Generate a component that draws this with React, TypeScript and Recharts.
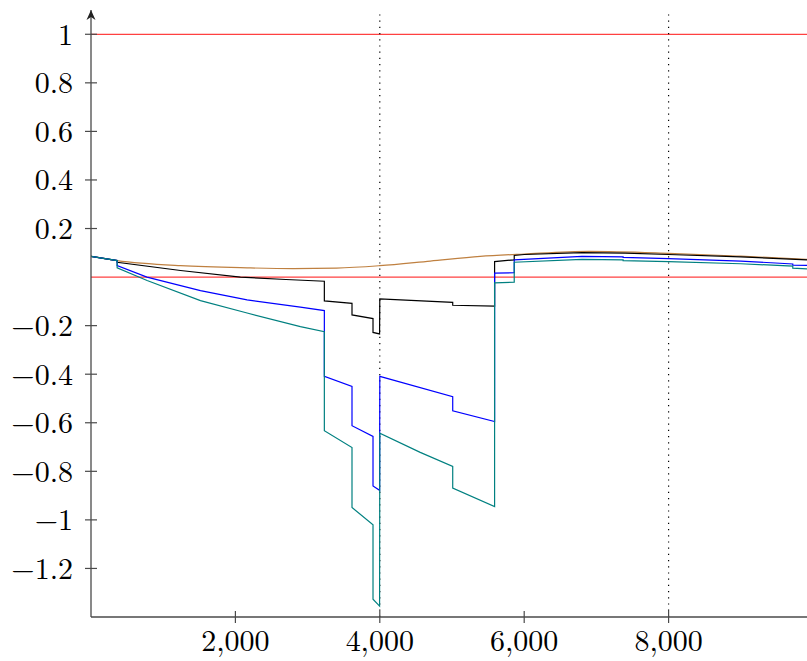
import React from 'react';
import {LineChart, Line, XAxis, YAxis, ReferenceLine} from 'recharts';

const xTicks = [2000, 4000, 6000, 8000];
const yTicks = [-1.2, -1, -0.8, -0.6, -0.4, -0.2, 0.2, 0.4, 0.6, 0.8, 1];

const blackX = [0, 362, 362, 1240, 2070, 2700, 3232, 3232, 3615, 3615, 3906, 3906, 3997, 4000, 5010, 5010, 5590, 5590, 5862, 5862, 6000, 6800, 7400, 8000, 9000, 9917];
const blackY = [0.085, 0.068, 0.061, 0.027, 0, -0.01, -0.017, -0.098, -0.108, -0.156, -0.171, -0.228, -0.234, -0.09, -0.104, -0.116, -0.12, 0.064, 0.071, 0.089, 0.093, 0.101, 0.099, 0.093, 0.083, 0.071];

const blueX = [0, 362, 362, 775, 1516, 2162, 2900, 3232, 3232, 3615, 3615, 3906, 3906, 3997, 4000, 5010, 5010, 5590, 5590, 5862, 5862, 6800, 7370, 7370, 8000, 9000, 9720, 9720, 9917];
const blueY = [0.085, 0.068, 0.047, 0, -0.056, -0.094, -0.124, -0.138, -0.409, -0.45, -0.612, -0.656, -0.86, -0.878, -0.409, -0.493, -0.551, -0.595, 0.016, 0.018, 0.071, 0.085, 0.083, 0.081, 0.076, 0.066, 0.054, 0.049, 0.048];

const tealX = [0, 362, 362, 777, 1516, 2162, 2900, 3232, 3232, 3615, 3615, 3906, 3906, 3997, 4000, 4560, 5010, 5010, 5590, 5590, 5862, 5862, 6800, 7370, 7370, 8000, 9000, 9720, 9720, 9917];
const tealY = [0.085, 0.068, 0.038, -0.014, -0.097, -0.148, -0.204, -0.225, -0.633, -0.702, -0.949, -1.02, -1.327, -1.355, -0.643, -0.722, -0.78, -0.869, -0.945, -0.024, -0.021, 0.061, 0.073, 0.071, 0.068, 0.064, 0.055, 0.045, 0.037, 0.034];

const orangeX = [0, 362, 1240, 2162, 2800, 3400, 4000, 4700, 5390, 6000, 6900, 8000, 9000, 9917];
const orangeY = [0.085, 0.068, 0.047, 0.038, 0.035, 0.037, 0.047, 0.066, 0.085, 0.095, 0.106, 0.098, 0.086, 0.073];

const toRows = (xs: number[], ys: number[]) => xs.map((x, i) => ({x, y: ys[i]}));

const FONT = '"Latin Modern Roman", "Liberation Serif", serif';
const AXIS = '#4a4a4a';
const RED = '#ff4040';

const fmtY = (v: number) => (v < 0 ? '\u2212' + Math.abs(v) : String(v));
const fmtX = (v: number) => v.toLocaleString('en-US');

const YTick = (props: any) => {
    const {x, y, payload} = props;
    return (
        <g>
            <line x1={x + 18} x2={x + 24} y1={y} y2={y} stroke={AXIS} strokeWidth={1.2}/>
            <text x={x} y={y} dy="0.35em" textAnchor="end" fontFamily={FONT} fontSize={30} fill="#000">
                {fmtY(payload.value)}
            </text>
        </g>
    );
};

const XTick = (props: any) => {
    const {x, y, payload} = props;
    return (
        <g>
            <line x1={x} x2={x} y1={y - 14} y2={y - 20} stroke={AXIS} strokeWidth={1.2}/>
            <text x={x} y={y} dy="0.68em" textAnchor="middle" fontFamily={FONT} fontSize={30} fill="#000">
                {fmtX(payload.value)}
            </text>
        </g>
    );
};

export default function App() {
    return (
        <div style={{position: 'absolute', left: 0, top: 0}}>
            <svg width={0} height={0} style={{position: 'absolute'}}>
                <defs>
                    <marker id="arrowHead" markerWidth={12} markerHeight={12} refX={10} refY={5}
                            orient="auto-start-reverse" markerUnits="userSpaceOnUse">
                        <path d="M10,5 L0,0.5 L3,5 L0,9.5 Z" fill="#222"/>
                    </marker>
                </defs>
            </svg>
            <LineChart width={807} height={661} margin={{top: 10, right: 0, bottom: 0, left: 0}}>
                <XAxis type="number" dataKey="x" domain={[0, 9917]} ticks={xTicks} height={44}
                       allowDataOverflow tickSize={6} tickMargin={8}
                       axisLine={{stroke: AXIS, strokeWidth: 1.3}}
                       tickLine={{stroke: AXIS, strokeWidth: 1.2}} tick={<XTick/>}/>
                <YAxis type="number" domain={[-1.4, 1.1]} ticks={yTicks} width={91}
                       allowDataOverflow tickSize={6} tickMargin={12}
                       axisLine={{stroke: AXIS, strokeWidth: 1.3, markerStart: 'url(#arrowHead)'}}
                       tickLine={{stroke: AXIS, strokeWidth: 1.2}} tick={<YTick/>}/>
                <ReferenceLine y={0} stroke={RED} strokeWidth={1.3}/>
                <ReferenceLine y={1} stroke={RED} strokeWidth={1.3}/>
                <ReferenceLine x={4000} stroke="#000" strokeWidth={1.2} strokeDasharray="1.2 5"/>
                <ReferenceLine x={8000} stroke="#000" strokeWidth={1.2} strokeDasharray="1.2 5"/>
                <Line data={toRows(orangeX, orangeY)} dataKey="y" type="monotone" stroke="#bf8040"
                      strokeWidth={1.2} dot={false} isAnimationActive={false}/>
                <Line data={toRows(blackX, blackY)} dataKey="y" type="linear" stroke="#000"
                      strokeWidth={1.2} dot={false} isAnimationActive={false}/>
                <Line data={toRows(blueX, blueY)} dataKey="y" type="linear" stroke="#0000ff"
                      strokeWidth={1.2} dot={false} isAnimationActive={false}/>
                <Line data={toRows(tealX, tealY)} dataKey="y" type="linear" stroke="#008080"
                      strokeWidth={1.2} dot={false} isAnimationActive={false}/>
            </LineChart>
        </div>
    );
}
